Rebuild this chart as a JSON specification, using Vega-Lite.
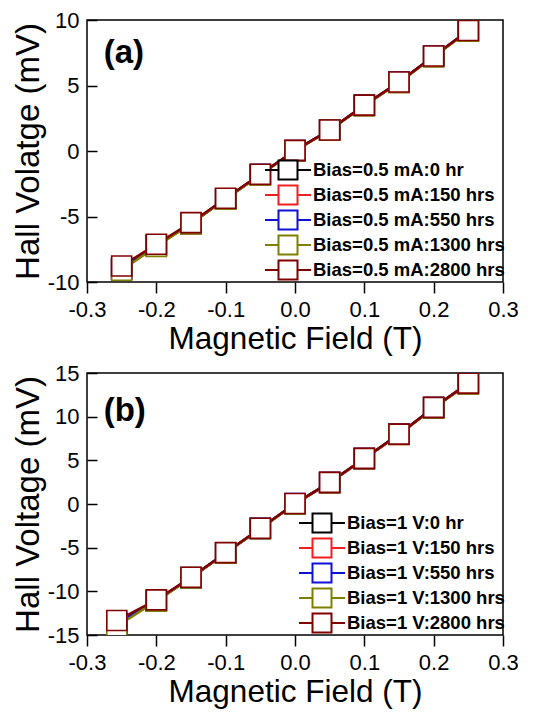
{
  "$schema": "https://vega.github.io/schema/vega-lite/v6.json",
  "padding": {"left": 11, "top": 8, "right": 10, "bottom": 2},
  "background": "white",
  "config": {
    "font": "Liberation Sans",
    "locale": {"number": {"decimal": ".", "thousands": ",", "grouping": [3], "currency": ["$", ""], "minus": "-"}},
    "view": {"stroke": "black", "strokeWidth": 1.5},
    "axis": {
      "grid": false,
      "domain": false,
      "labelFont": "Liberation Sans",
      "labelFontSize": 22,
      "labelColor": "black",
      "labelFlush": false,
      "labelOverlap": false,
      "titleFont": "Liberation Sans",
      "titleFontWeight": "normal",
      "titleColor": "black",
      "tickColor": "black",
      "tickWidth": 1.5
    },
    "legend": {
      "orient": "bottom-right",
      "offset": -2,
      "padding": 0,
      "labelFont": "Liberation Sans",
      "labelFontSize": 18.5,
      "labelFontWeight": "bold",
      "labelColor": "black",
      "labelLimit": 0,
      "symbolType": "M-2.3,0H-0.95M0.95,0H2.3M-0.95,-0.95H0.95V0.95H-0.95Z",
      "symbolSize": 400,
      "symbolStrokeWidth": 2,
      "symbolFillColor": "white",
      "labelOffset": 14,
      "rowPadding": -4
    }
  },
  "datasets": {
    "a": [
      {"B": -0.25, "V": -8.95, "series": "Bias=0.5 mA:0 hr"},
      {"B": -0.2, "V": -7.20, "series": "Bias=0.5 mA:0 hr"},
      {"B": -0.15, "V": -5.52, "series": "Bias=0.5 mA:0 hr"},
      {"B": -0.1, "V": -3.65, "series": "Bias=0.5 mA:0 hr"},
      {"B": -0.05, "V": -1.80, "series": "Bias=0.5 mA:0 hr"},
      {"B": 0, "V": 0.02, "series": "Bias=0.5 mA:0 hr"},
      {"B": 0.05, "V": 1.62, "series": "Bias=0.5 mA:0 hr"},
      {"B": 0.1, "V": 3.48, "series": "Bias=0.5 mA:0 hr"},
      {"B": 0.15, "V": 5.25, "series": "Bias=0.5 mA:0 hr"},
      {"B": 0.2, "V": 7.22, "series": "Bias=0.5 mA:0 hr"},
      {"B": 0.25, "V": 9.18, "series": "Bias=0.5 mA:0 hr"},
      {"B": -0.25, "V": -9.05, "series": "Bias=0.5 mA:150 hrs"},
      {"B": -0.2, "V": -7.25, "series": "Bias=0.5 mA:150 hrs"},
      {"B": -0.15, "V": -5.55, "series": "Bias=0.5 mA:150 hrs"},
      {"B": -0.1, "V": -3.66, "series": "Bias=0.5 mA:150 hrs"},
      {"B": -0.05, "V": -1.81, "series": "Bias=0.5 mA:150 hrs"},
      {"B": 0, "V": 0.03, "series": "Bias=0.5 mA:150 hrs"},
      {"B": 0.05, "V": 1.60, "series": "Bias=0.5 mA:150 hrs"},
      {"B": 0.1, "V": 3.47, "series": "Bias=0.5 mA:150 hrs"},
      {"B": 0.15, "V": 5.24, "series": "Bias=0.5 mA:150 hrs"},
      {"B": 0.2, "V": 7.21, "series": "Bias=0.5 mA:150 hrs"},
      {"B": 0.25, "V": 9.16, "series": "Bias=0.5 mA:150 hrs"},
      {"B": -0.25, "V": -9.00, "series": "Bias=0.5 mA:550 hrs"},
      {"B": -0.2, "V": -7.22, "series": "Bias=0.5 mA:550 hrs"},
      {"B": -0.15, "V": -5.53, "series": "Bias=0.5 mA:550 hrs"},
      {"B": -0.1, "V": -3.64, "series": "Bias=0.5 mA:550 hrs"},
      {"B": -0.05, "V": -1.79, "series": "Bias=0.5 mA:550 hrs"},
      {"B": 0, "V": 0.04, "series": "Bias=0.5 mA:550 hrs"},
      {"B": 0.05, "V": 1.61, "series": "Bias=0.5 mA:550 hrs"},
      {"B": 0.1, "V": 3.49, "series": "Bias=0.5 mA:550 hrs"},
      {"B": 0.15, "V": 5.26, "series": "Bias=0.5 mA:550 hrs"},
      {"B": 0.2, "V": 7.23, "series": "Bias=0.5 mA:550 hrs"},
      {"B": 0.25, "V": 9.19, "series": "Bias=0.5 mA:550 hrs"},
      {"B": -0.25, "V": -9.10, "series": "Bias=0.5 mA:1300 hrs"},
      {"B": -0.2, "V": -7.28, "series": "Bias=0.5 mA:1300 hrs"},
      {"B": -0.15, "V": -5.56, "series": "Bias=0.5 mA:1300 hrs"},
      {"B": -0.1, "V": -3.67, "series": "Bias=0.5 mA:1300 hrs"},
      {"B": -0.05, "V": -1.82, "series": "Bias=0.5 mA:1300 hrs"},
      {"B": 0, "V": 0.02, "series": "Bias=0.5 mA:1300 hrs"},
      {"B": 0.05, "V": 1.59, "series": "Bias=0.5 mA:1300 hrs"},
      {"B": 0.1, "V": 3.46, "series": "Bias=0.5 mA:1300 hrs"},
      {"B": 0.15, "V": 5.23, "series": "Bias=0.5 mA:1300 hrs"},
      {"B": 0.2, "V": 7.20, "series": "Bias=0.5 mA:1300 hrs"},
      {"B": 0.25, "V": 9.15, "series": "Bias=0.5 mA:1300 hrs"},
      {"B": -0.25, "V": -8.78, "series": "Bias=0.5 mA:2800 hrs"},
      {"B": -0.2, "V": -7.12, "series": "Bias=0.5 mA:2800 hrs"},
      {"B": -0.15, "V": -5.47, "series": "Bias=0.5 mA:2800 hrs"},
      {"B": -0.1, "V": -3.61, "series": "Bias=0.5 mA:2800 hrs"},
      {"B": -0.05, "V": -1.78, "series": "Bias=0.5 mA:2800 hrs"},
      {"B": 0, "V": 0.05, "series": "Bias=0.5 mA:2800 hrs"},
      {"B": 0.05, "V": 1.60, "series": "Bias=0.5 mA:2800 hrs"},
      {"B": 0.1, "V": 3.50, "series": "Bias=0.5 mA:2800 hrs"},
      {"B": 0.15, "V": 5.27, "series": "Bias=0.5 mA:2800 hrs"},
      {"B": 0.2, "V": 7.25, "series": "Bias=0.5 mA:2800 hrs"},
      {"B": 0.25, "V": 9.20, "series": "Bias=0.5 mA:2800 hrs"}
    ],
    "b": [
      {"B": -0.257, "V": -13.70, "series": "Bias=1 V:0 hr"},
      {"B": -0.2, "V": -11.05, "series": "Bias=1 V:0 hr"},
      {"B": -0.15, "V": -8.43, "series": "Bias=1 V:0 hr"},
      {"B": -0.1, "V": -5.60, "series": "Bias=1 V:0 hr"},
      {"B": -0.05, "V": -2.80, "series": "Bias=1 V:0 hr"},
      {"B": 0, "V": 0.03, "series": "Bias=1 V:0 hr"},
      {"B": 0.05, "V": 2.46, "series": "Bias=1 V:0 hr"},
      {"B": 0.1, "V": 5.20, "series": "Bias=1 V:0 hr"},
      {"B": 0.15, "V": 7.98, "series": "Bias=1 V:0 hr"},
      {"B": 0.2, "V": 11.03, "series": "Bias=1 V:0 hr"},
      {"B": 0.25, "V": 13.80, "series": "Bias=1 V:0 hr"},
      {"B": -0.257, "V": -13.75, "series": "Bias=1 V:150 hrs"},
      {"B": -0.2, "V": -11.08, "series": "Bias=1 V:150 hrs"},
      {"B": -0.15, "V": -8.45, "series": "Bias=1 V:150 hrs"},
      {"B": -0.1, "V": -5.61, "series": "Bias=1 V:150 hrs"},
      {"B": -0.05, "V": -2.81, "series": "Bias=1 V:150 hrs"},
      {"B": 0, "V": 0.02, "series": "Bias=1 V:150 hrs"},
      {"B": 0.05, "V": 2.45, "series": "Bias=1 V:150 hrs"},
      {"B": 0.1, "V": 5.19, "series": "Bias=1 V:150 hrs"},
      {"B": 0.15, "V": 7.97, "series": "Bias=1 V:150 hrs"},
      {"B": 0.2, "V": 11.02, "series": "Bias=1 V:150 hrs"},
      {"B": 0.25, "V": 13.78, "series": "Bias=1 V:150 hrs"},
      {"B": -0.257, "V": -13.72, "series": "Bias=1 V:550 hrs"},
      {"B": -0.2, "V": -11.06, "series": "Bias=1 V:550 hrs"},
      {"B": -0.15, "V": -8.44, "series": "Bias=1 V:550 hrs"},
      {"B": -0.1, "V": -5.60, "series": "Bias=1 V:550 hrs"},
      {"B": -0.05, "V": -2.79, "series": "Bias=1 V:550 hrs"},
      {"B": 0, "V": 0.04, "series": "Bias=1 V:550 hrs"},
      {"B": 0.05, "V": 2.47, "series": "Bias=1 V:550 hrs"},
      {"B": 0.1, "V": 5.21, "series": "Bias=1 V:550 hrs"},
      {"B": 0.15, "V": 7.99, "series": "Bias=1 V:550 hrs"},
      {"B": 0.2, "V": 11.04, "series": "Bias=1 V:550 hrs"},
      {"B": 0.25, "V": 13.81, "series": "Bias=1 V:550 hrs"},
      {"B": -0.257, "V": -14.00, "series": "Bias=1 V:1300 hrs"},
      {"B": -0.2, "V": -11.12, "series": "Bias=1 V:1300 hrs"},
      {"B": -0.15, "V": -8.47, "series": "Bias=1 V:1300 hrs"},
      {"B": -0.1, "V": -5.62, "series": "Bias=1 V:1300 hrs"},
      {"B": -0.05, "V": -2.82, "series": "Bias=1 V:1300 hrs"},
      {"B": 0, "V": 0.02, "series": "Bias=1 V:1300 hrs"},
      {"B": 0.05, "V": 2.44, "series": "Bias=1 V:1300 hrs"},
      {"B": 0.1, "V": 5.18, "series": "Bias=1 V:1300 hrs"},
      {"B": 0.15, "V": 7.96, "series": "Bias=1 V:1300 hrs"},
      {"B": 0.2, "V": 11.00, "series": "Bias=1 V:1300 hrs"},
      {"B": 0.25, "V": 13.76, "series": "Bias=1 V:1300 hrs"},
      {"B": -0.257, "V": -13.34, "series": "Bias=1 V:2800 hrs"},
      {"B": -0.2, "V": -10.98, "series": "Bias=1 V:2800 hrs"},
      {"B": -0.15, "V": -8.39, "series": "Bias=1 V:2800 hrs"},
      {"B": -0.1, "V": -5.57, "series": "Bias=1 V:2800 hrs"},
      {"B": -0.05, "V": -2.78, "series": "Bias=1 V:2800 hrs"},
      {"B": 0, "V": 0.05, "series": "Bias=1 V:2800 hrs"},
      {"B": 0.05, "V": 2.48, "series": "Bias=1 V:2800 hrs"},
      {"B": 0.1, "V": 5.22, "series": "Bias=1 V:2800 hrs"},
      {"B": 0.15, "V": 8.00, "series": "Bias=1 V:2800 hrs"},
      {"B": 0.2, "V": 11.06, "series": "Bias=1 V:2800 hrs"},
      {"B": 0.25, "V": 13.84, "series": "Bias=1 V:2800 hrs"}
    ]
  },
  "spacing": 5,
  "resolve": {"scale": {"color": "independent"}, "legend": {"color": "independent"}},
  "vconcat": [
    {
      "width": 416,
      "height": 262,
      "layer": [
        {
          "data": {"name": "a"},
          "mark": {"type": "line", "strokeWidth": 2.5, "clip": true},
          "encoding": {
            "x": {"field": "B", "type": "quantitative", "scale": {"domain": [-0.3, 0.3], "nice": false, "zero": false},
                  "axis": {"title": "Magnetic Field (T)", "titleFontSize": 31.5, "values": [-0.3, -0.2, -0.1, 0, 0.1, 0.2, 0.3], "format": ".1f", "tickSize": 11, "labelPadding": 6, "titlePadding": 3}},
            "y": {"field": "V", "type": "quantitative", "scale": {"domain": [-10, 10], "nice": false, "zero": false},
                  "axis": {"title": "Hall Volatge (mV)", "titleFontSize": 33, "values": [-10, -5, 0, 5, 10], "tickSize": -10, "labelPadding": 18, "titlePadding": 2}},
            "color": {"field": "series", "type": "nominal",
                      "scale": {"domain": ["Bias=0.5 mA:0 hr", "Bias=0.5 mA:150 hrs", "Bias=0.5 mA:550 hrs", "Bias=0.5 mA:1300 hrs", "Bias=0.5 mA:2800 hrs"],
                                "range": ["#000000", "#f02020", "#1010d0", "#808000", "#800000"]},
                      "legend": {"title": null, "encode": {"symbols": {"update": {"fill": {"value": "white"}, "opacity": {"value": 1}}}}}}
          }
        },
        {
          "data": {"name": "a"},
          "mark": {"type": "point", "shape": "square", "size": 400, "filled": false, "fill": "white", "strokeWidth": 1.6, "opacity": 1, "clip": true},
          "encoding": {
            "x": {"field": "B", "type": "quantitative"},
            "y": {"field": "V", "type": "quantitative"},
            "color": {"field": "series", "type": "nominal"}
          }
        },
        {
          "data": {"values": [{"label": "(a)"}]},
          "mark": {"type": "text", "fontSize": 33, "fontWeight": "bold", "align": "left", "baseline": "middle", "color": "black"},
          "encoding": {
            "x": {"datum": -0.276},
            "y": {"datum": 7.5},
            "text": {"field": "label"}
          }
        }
      ]
    },
    {
      "width": 416,
      "height": 262,
      "layer": [
        {
          "data": {"name": "b"},
          "mark": {"type": "line", "strokeWidth": 2.5, "clip": true},
          "encoding": {
            "x": {"field": "B", "type": "quantitative", "scale": {"domain": [-0.3, 0.3], "nice": false, "zero": false},
                  "axis": {"title": "Magnetic Field (T)", "titleFontSize": 31.5, "values": [-0.3, -0.2, -0.1, 0, 0.1, 0.2, 0.3], "format": ".1f", "tickSize": 11, "labelPadding": 6, "titlePadding": 3}},
            "y": {"field": "V", "type": "quantitative", "scale": {"domain": [-15, 15], "nice": false, "zero": false},
                  "axis": {"title": "Hall Voltage (mV)", "titleFontSize": 33, "values": [-15, -10, -5, 0, 5, 10, 15], "tickSize": -10, "labelPadding": 18, "titlePadding": 2}},
            "color": {"field": "series", "type": "nominal",
                      "scale": {"domain": ["Bias=1 V:0 hr", "Bias=1 V:150 hrs", "Bias=1 V:550 hrs", "Bias=1 V:1300 hrs", "Bias=1 V:2800 hrs"],
                                "range": ["#000000", "#f02020", "#1010d0", "#808000", "#800000"]},
                      "legend": {"title": null, "encode": {"symbols": {"update": {"fill": {"value": "white"}, "opacity": {"value": 1}}}}}}
          }
        },
        {
          "data": {"name": "b"},
          "mark": {"type": "point", "shape": "square", "size": 400, "filled": false, "fill": "white", "strokeWidth": 1.6, "opacity": 1, "clip": true},
          "encoding": {
            "x": {"field": "B", "type": "quantitative"},
            "y": {"field": "V", "type": "quantitative"},
            "color": {"field": "series", "type": "nominal"}
          }
        },
        {
          "data": {"values": [{"label": "(b)"}]},
          "mark": {"type": "text", "fontSize": 33, "fontWeight": "bold", "align": "left", "baseline": "middle", "color": "black"},
          "encoding": {
            "x": {"datum": -0.276},
            "y": {"datum": 10.6},
            "text": {"field": "label"}
          }
        }
      ]
    }
  ]
}
